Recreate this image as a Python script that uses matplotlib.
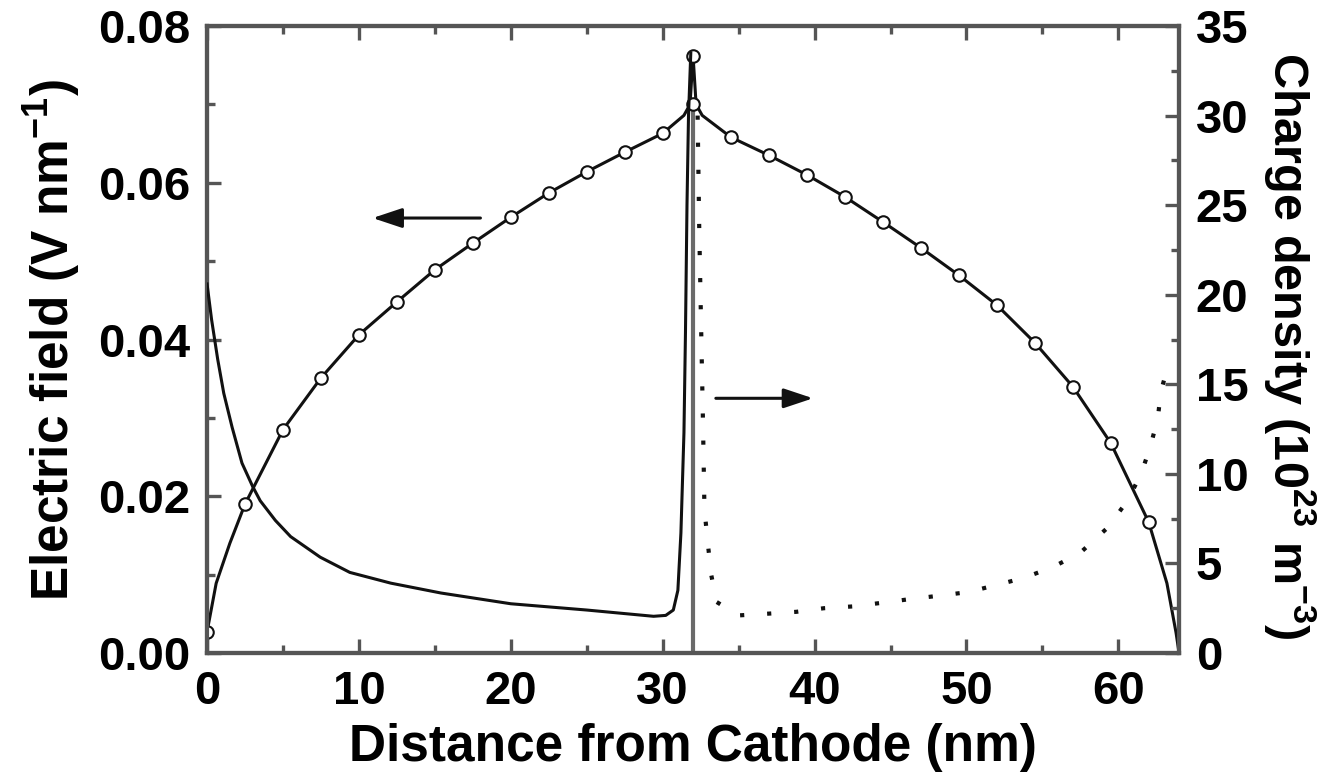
import matplotlib
matplotlib.use("Agg")
import matplotlib.pyplot as plt
from matplotlib.ticker import MultipleLocator

plt.rcParams['font.family'] = ['Liberation Sans', 'DejaVu Sans']
plt.rcParams['font.weight'] = 'bold'
plt.rcParams['mathtext.fontset'] = 'custom'
plt.rcParams['mathtext.rm'] = 'Liberation Sans:bold'
plt.rcParams['mathtext.bf'] = 'Liberation Sans:bold'
plt.rcParams['mathtext.it'] = 'Liberation Sans:bold'
plt.rcParams['mathtext.default'] = 'rm'

# ---- Data ----
# Electric field curve (left axis, V/nm)
field_x = [0, 0.6, 1.5, 2.5, 5, 7.5, 10, 12.5, 15, 17.5, 20, 22.5, 25, 27.5, 30,
           31.4, 31.8, 32.0, 32.2, 32.6, 34.5, 37, 39.5, 42, 44.5, 47, 49.5, 52,
           54.5, 57, 59.5, 62, 63.2, 63.8, 64.0]
field_e = [0.0027, 0.0089, 0.0140, 0.0190, 0.0285, 0.0351, 0.0406, 0.0448, 0.0489,
           0.0523, 0.0556, 0.0587, 0.0614, 0.0639, 0.0663,
           0.0686, 0.0700, 0.0762, 0.0700, 0.0686, 0.0658, 0.0635, 0.0610, 0.0582,
           0.0550, 0.0517, 0.0482, 0.0444, 0.0396, 0.0340, 0.0268, 0.0167, 0.0089,
           0.0026, 0.0]
# open-circle markers on the field curve
marker_x = [0, 2.5, 5, 7.5, 10, 12.5, 15, 17.5, 20, 22.5, 25, 27.5, 30, 32.0, 32.0,
            34.5, 37, 39.5, 42, 44.5, 47, 49.5, 52, 54.5, 57, 59.5, 62]
marker_e = [0.0027, 0.0190, 0.0285, 0.0351, 0.0406, 0.0448, 0.0489, 0.0523, 0.0556,
            0.0587, 0.0614, 0.0639, 0.0663, 0.0700, 0.0762,
            0.0658, 0.0635, 0.0610, 0.0582, 0.0550, 0.0517, 0.0482, 0.0444, 0.0396,
            0.0340, 0.0268, 0.0167]

# Charge density, solid (right axis, 1e23 m^-3), cathode side
rho_solid_x = [0, 0.3, 0.7, 1.1, 1.65, 2.3, 3.0, 3.5, 4.5, 5.5, 7.45, 9.4, 12.1, 15.4,
               20.0, 25.0, 29.4, 30.2, 30.7, 31.0, 31.2, 31.4, 31.5, 31.6, 31.7, 31.85]
rho_solid = [20.6, 18.6, 16.4, 14.5, 12.6, 10.6, 9.3, 8.5, 7.4, 6.5, 5.35, 4.5, 3.9,
             3.35, 2.75, 2.4, 2.05, 2.1, 2.4, 3.5, 6.7, 12.3, 17.9, 25.0, 30.0, 33.5]

# Charge density, dotted (right axis), anode side
rho_dot_x = [32.3, 32.4, 32.5, 32.65, 32.75, 33.0, 33.2, 33.55, 35.0, 37.0, 38.8, 40.6,
             42.5, 44.4, 46.2, 48.2, 50.1, 52.0, 53.8, 55.7, 57.5, 59.3, 60.6, 61.5,
             62.1, 62.6, 62.8, 63.3]
rho_dot = [30.0, 24.0, 19.5, 13.0, 8.0, 5.9, 4.35, 2.85, 2.1, 2.2, 2.3, 2.5, 2.6, 2.8,
           3.0, 3.2, 3.4, 3.8, 4.2, 4.8, 5.6, 7.0, 8.5, 10.0, 11.5, 13.1, 14.6, 16.1]

# interface line
interface_x = 32.0
interface_top = 0.0700

# arrows (tail -> head)
arrow_left = ((18.0, 0.0555), (10.9, 0.0555))
arrow_right = ((33.5, 0.0325), (39.9, 0.0325))

x_ticks = [0, 10, 20, 30, 40, 50, 60]
y_left_ticks = [0.00, 0.02, 0.04, 0.06, 0.08]
y_right_ticks = [0, 5, 10, 15, 20, 25, 30, 35]

# ---- Figure ----
fig = plt.figure(figsize=(13.35, 7.74), dpi=100)
ax = fig.add_axes([0.1551, 0.1563, 0.7281, 0.8101])
ax2 = ax.twinx()

spine_col = '#555555'
ink = '#111111'

ax.plot(field_x, field_e, color=ink, lw=2.2, zorder=3)
ax.plot(marker_x, marker_e, linestyle='none', marker='o', ms=9, mfc='white',
        mec=ink, mew=1.5, zorder=4)
ax.plot([interface_x, interface_x], [0, interface_top], color='#6a6a6a', lw=3.0, zorder=2)

ax2.plot(rho_solid_x, rho_solid, color=ink, lw=2.2, zorder=3)
ax2.plot(rho_dot_x, rho_dot, color=ink, lw=3.0, linestyle=(0, (1, 5.5)), zorder=3)

for (tail, head) in (arrow_left, arrow_right):
    ax.annotate('', xy=head, xytext=tail,
                arrowprops=dict(arrowstyle='-|>,head_length=0.9,head_width=0.3',
                                color=ink, lw=2.2, mutation_scale=20,
                                shrinkA=0, shrinkB=0))

ax.set_xlim(0, 64)
ax.set_ylim(0, 0.08)
ax2.set_ylim(0, 35)

ax.set_xticks(x_ticks)
ax.set_xticklabels([str(v) for v in x_ticks])
ax.xaxis.set_minor_locator(MultipleLocator(5))
ax.set_yticks(y_left_ticks)
ax.set_yticklabels(['%.2f' % v for v in y_left_ticks])
ax.yaxis.set_minor_locator(MultipleLocator(0.01))
ax2.set_yticks(y_right_ticks)
ax2.set_yticklabels([str(v) for v in y_right_ticks])
ax2.yaxis.set_minor_locator(MultipleLocator(2.5))

fs_tick = 34
ax.tick_params(axis='x', which='both', direction='in', top=True, bottom=True,
               colors=spine_col, labelcolor='black', labelsize=fs_tick, pad=12)
ax.tick_params(axis='y', which='both', direction='in', left=True, right=False,
               colors=spine_col, labelcolor='black', labelsize=fs_tick, pad=12)
ax2.tick_params(axis='y', which='both', direction='in', right=True, left=False,
                colors=spine_col, labelcolor='black', labelsize=fs_tick, pad=12)
for a in (ax, ax2):
    a.tick_params(which='major', length=10, width=2.4)
    a.tick_params(which='minor', length=6, width=2.4)
    for s in a.spines.values():
        s.set_color(spine_col)
        s.set_linewidth(3.0)

fs_lab = 37
ax.set_xlabel('Distance from Cathode (nm)', fontsize=fs_lab, fontweight='bold')
ax.set_ylabel('Electric field (V nm$^{-1}$)', fontsize=fs_lab, fontweight='bold')
ax2.set_ylabel('Charge density (10$^{23}$ m$^{-3}$)', fontsize=35,
               fontweight='bold', rotation=270, va='bottom')
ax.xaxis.set_label_coords(0.5, -0.111)
ax.yaxis.set_label_coords(-0.128, 0.5)
ax2.yaxis.set_label_coords(1.085, 0.49)

fig.savefig('out.png', dpi=100, facecolor='white')
